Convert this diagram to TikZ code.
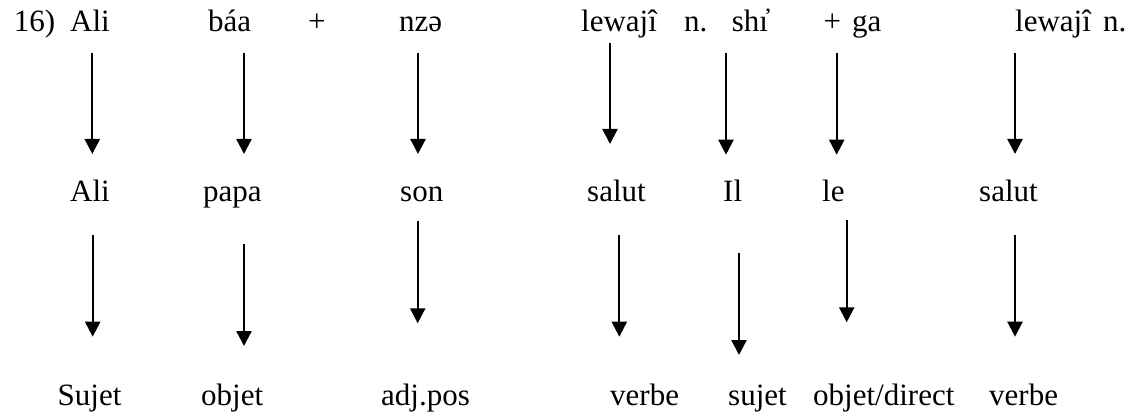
\documentclass[tikz,border=0pt]{standalone}
\usepackage{fontspec}
\setmainfont{Liberation Serif}
\usetikzlibrary{arrows.meta}
\tikzset{
  word/.style={anchor=base west, inner sep=0pt, font=\fontsize{31}{36}\selectfont},
  arr/.style={-{Triangle[length=15pt,width=15pt]}, line width=2.3pt}
}
\begin{document}
\begin{tikzpicture}[x=1pt, y=-1pt]
\useasboundingbox (0,0) rectangle (1128,417);
% first line: the sentence
\node[word] (num) at (13.6,31.7) {16)};
\node[word] (aliA) at (70,31.7) {Ali};
\node[word] (baa) at (208,31.7) {báa};
\node[word] (plusA) at (308,31.7) {+};
\node[word] (nze) at (399,31.7) {nzə};
\node[word] (lewA) at (581,31.7) {lewajî};
\node[word] (nA) at (684,31.7) {n.};
\node[word] (shi) at (731.7,31.7) {shı̓};
\node[word] (plusB) at (823.5,31.7) {+};
\node[word] (ga) at (852,31.7) {ga};
\node[word] (lewB) at (1015,31.7) {lewajî};
\node[word] (nB) at (1103,31.7) {n.};
% second line: the gloss
\node[word] (aliB) at (70,201.5) {Ali};
\node[word] (papa) at (203,201.5) {papa};
\node[word] (son) at (400,201.5) {son};
\node[word] (salA) at (587,201.5) {salut};
\node[word] (il) at (723,201.5) {Il};
\node[word] (le) at (822,201.5) {le};
\node[word] (salB) at (979,201.5) {salut};
% third line: the functions
\node[word] (suj) at (57.5,405) {Sujet};
\node[word] (obj) at (201,405) {objet};
\node[word] (adj) at (381,405) {adj.pos};
\node[word] (verA) at (610,405) {verbe};
\node[word] (sujB) at (728,405) {sujet};
\node[word] (objd) at (813,405) {objet/direct};
\node[word] (verB) at (989,405) {verbe};
% arrows, first to second line
\coordinate (a1) at (92.3,52.7);  \coordinate (b1) at (92.3,154);
\coordinate (a2) at (244,52.7);   \coordinate (b2) at (244,154);
\coordinate (a3) at (418,52.7);   \coordinate (b3) at (418,154);
\coordinate (a4) at (610,42.7);   \coordinate (b4) at (610,144);
\coordinate (a5) at (726,52.7);   \coordinate (b5) at (726,154.7);
\coordinate (a6) at (836.7,52.7); \coordinate (b6) at (836.7,154.7);
\coordinate (a7) at (1015,52.7);  \coordinate (b7) at (1015,154);
\draw[arr] (a1)--(b1);
\draw[arr] (a2)--(b2);
\draw[arr] (a3)--(b3);
\draw[arr] (a4)--(b4);
\draw[arr] (a5)--(b5);
\draw[arr] (a6)--(b6);
\draw[arr] (a7)--(b7);
% arrows, second to third line
\coordinate (c1) at (92.7,234.7); \coordinate (d1) at (92.7,336.7);
\coordinate (c2) at (244,244);    \coordinate (d2) at (244,346);
\coordinate (c3) at (417.7,220.7);\coordinate (d3) at (417.7,323.3);
\coordinate (c4) at (619.3,234.7);\coordinate (d4) at (619.3,336.7);
\coordinate (c5) at (739,252.7);  \coordinate (d5) at (739,355);
\coordinate (c6) at (846.7,220);  \coordinate (d6) at (846.7,322.3);
\coordinate (c7) at (1015,235);   \coordinate (d7) at (1015,336.7);
\draw[arr] (c1)--(d1);
\draw[arr] (c2)--(d2);
\draw[arr] (c3)--(d3);
\draw[arr] (c4)--(d4);
\draw[arr] (c5)--(d5);
\draw[arr] (c6)--(d6);
\draw[arr] (c7)--(d7);
\end{tikzpicture}
\end{document}
